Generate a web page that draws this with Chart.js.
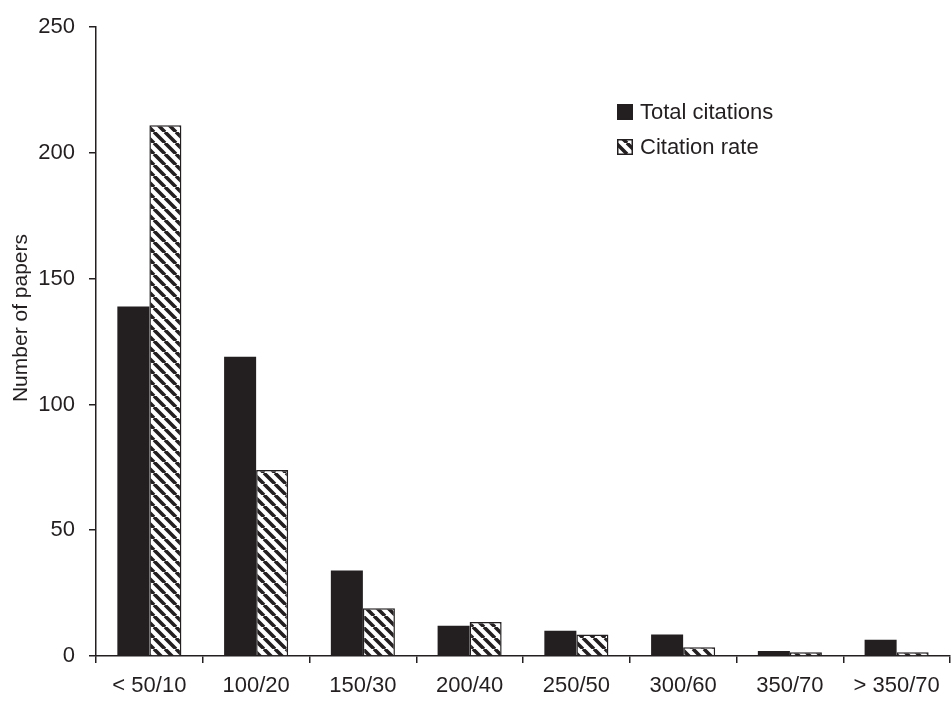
<!DOCTYPE html>
<html>
<head>
<meta charset="utf-8">
<script src="https://cdn.jsdelivr.net/npm/chart.js@4.4.1/dist/chart.umd.min.js"></script>
<style>
  html, body { margin: 0; padding: 0; background: #fff; }
  #wrap { width: 951px; height: 701px; position: relative; }
</style>
</head>
<body>
<div id="wrap"><canvas id="myChart"></canvas></div>
<script>
const categories = ['< 50/10', '100/20', '150/30', '200/40', '250/50', '300/60', '350/70', '> 350/70'];
const totalCitations = [139, 119, 34, 12, 10, 8.5, 2, 6.5];
const citationRate = [211, 74, 19, 13.5, 8.5, 3.5, 1.5, 1.5];
const yTicks = [0, 50, 100, 150, 200, 250];
const yTitle = 'Number of papers';

const ink = '#231f20';

// diagonal "\" hatch
function makeHatch(size, lw) {
  const c = document.createElement('canvas');
  c.width = size; c.height = size;
  const g = c.getContext('2d');
  g.fillStyle = '#fff';
  g.fillRect(0, 0, size, size);
  g.strokeStyle = ink;
  g.lineWidth = lw;
  g.beginPath();
  for (let k = -1; k <= 1; k++) {
    g.moveTo(k * size, 0);
    g.lineTo(k * size + size, size);
  }
  g.stroke();
  return g.createPattern(c, 'repeat');
}
const hatch = makeHatch(11, 3.6);

// legend in the top right + y title (sits a bit above centre in the original)
const extras = {
  id: 'extras',
  afterDraw(chart) {
    const ctx = chart.ctx;
    ctx.save();
    ctx.font = '22px "Liberation Sans", Arial, sans-serif';
    ctx.textBaseline = 'middle';
    chart.data.datasets.forEach((ds, i) => {
      const y = 112 + i * 35;
      ctx.fillStyle = ds.backgroundColor;
      ctx.fillRect(617, y - 8, 16, 16);
      ctx.strokeStyle = ink;
      ctx.lineWidth = 1.5;
      ctx.strokeRect(617.75, y - 7.25, 14.5, 14.5);
      ctx.fillStyle = ink;
      ctx.fillText(ds.label, 640, y + 1);
    });

    ctx.font = '21px "Liberation Sans", Arial, sans-serif';
    ctx.textAlign = 'center';
    ctx.translate(21, 318);
    ctx.rotate(-Math.PI / 2);
    ctx.fillText(yTitle, 0, 0);
    ctx.restore();
  }
};

Chart.defaults.font.family = '"Liberation Sans", Arial, sans-serif';
Chart.defaults.color = ink;

const chartContext = document.getElementById('myChart').getContext('2d');
const myChart = new Chart(chartContext, {
  type: 'bar',
  data: {
    labels: categories,
    datasets: [{
      label: 'Total citations',
      data: totalCitations,
      backgroundColor: ink,
      borderColor: ink,
      borderWidth: 0
    }, {
      label: 'Citation rate',
      data: citationRate,
      backgroundColor: hatch,
      borderColor: ink,
      borderWidth: 1.5
    }]
  },
  options: {
    responsive: true,
    maintainAspectRatio: false,
    animation: false,
    layout: { padding: { top: 16, right: 1, left: 0, bottom: 0 } },
    datasets: {
      bar: { categoryPercentage: 0.6, barPercentage: 1 }
    },
    plugins: {
      legend: { display: false },
      tooltip: { enabled: false }
    },
    scales: {
      x: {
        afterFit: s => { s.height = 45; },
        grid: { offset: true, drawOnChartArea: false, tickLength: 7, color: ink, lineWidth: 1.5 },
        border: { color: ink, width: 1.5 },
        ticks: { font: { size: 22 }, padding: 10, maxRotation: 0 }
      },
      y: {
        min: 0,
        max: 250,
        afterFit: s => { s.width = 96; },
        afterBuildTicks: s => { s.ticks = yTicks.map(v => ({ value: v })); },
        grid: { drawOnChartArea: false, tickLength: 7, color: ink, lineWidth: 1.5 },
        border: { color: ink, width: 1.5 },
        ticks: { font: { size: 22 }, padding: 14 }
      }
    }
  },
  plugins: [extras]
});
</script>
</body>
</html>
